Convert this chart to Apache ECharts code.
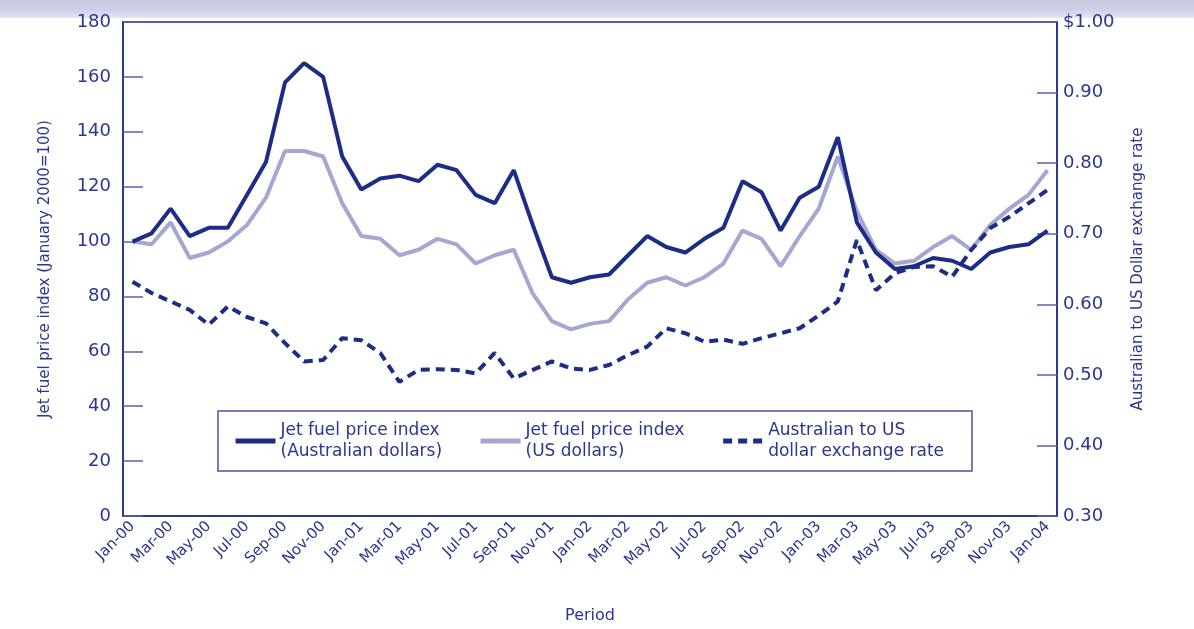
<!DOCTYPE html>
<html>
<head>
<meta charset="utf-8">
<script src="https://cdn.jsdelivr.net/npm/echarts@6/dist/echarts.min.js"></script>
<style>
  html, body { margin: 0; padding: 0; background: #fff; }
  #chart { width: 1194px; height: 629px; }
</style>
</head>
<body>
<div id="chart"></div>
<script>
// monthly, Jan-00 .. Jan-04
var months = ["Jan-00","Feb-00","Mar-00","Apr-00","May-00","Jun-00","Jul-00","Aug-00","Sep-00","Oct-00","Nov-00","Dec-00",
              "Jan-01","Feb-01","Mar-01","Apr-01","May-01","Jun-01","Jul-01","Aug-01","Sep-01","Oct-01","Nov-01","Dec-01",
              "Jan-02","Feb-02","Mar-02","Apr-02","May-02","Jun-02","Jul-02","Aug-02","Sep-02","Oct-02","Nov-02","Dec-02",
              "Jan-03","Feb-03","Mar-03","Apr-03","May-03","Jun-03","Jul-03","Aug-03","Sep-03","Oct-03","Nov-03","Dec-03",
              "Jan-04"];

// jet fuel price index, Australian dollars (Jan 2000 = 100)
var fuelAud = [100, 103, 112, 102, 105, 105, 117, 129, 158, 165, 160, 131,
               119, 123, 124, 122, 128, 126, 117, 114, 126, 106, 87, 85,
               87, 88, 95, 102, 98, 96, 101, 105, 122, 118, 104, 116,
               120, 138, 107, 96, 90, 91, 94, 93, 90, 96, 98, 99,
               104];

// jet fuel price index, US dollars
var fuelUsd = [100, 99, 107, 94, 96, 100, 106, 116, 133, 133, 131, 114,
               102, 101, 95, 97, 101, 99, 92, 95, 97, 81, 71, 68,
               70, 71, 79, 85, 87, 84, 87, 92, 104, 101, 91, 102,
               112, 131, 111, 97, 92, 93, 98, 102, 97, 106, 112, 117,
               126];

// AUD to USD exchange rate
var exRate = [0.632, 0.616, 0.604, 0.592, 0.571, 0.597, 0.582, 0.573, 0.545, 0.519, 0.521, 0.552,
              0.549, 0.531, 0.490, 0.507, 0.508, 0.507, 0.502, 0.531, 0.495, 0.507, 0.519, 0.509,
              0.507, 0.514, 0.528, 0.540, 0.566, 0.559, 0.547, 0.550, 0.544, 0.552, 0.559, 0.566,
              0.584, 0.604, 0.691, 0.620, 0.644, 0.653, 0.654, 0.639, 0.677, 0.708, 0.724, 0.743,
              0.762];

var seriesNames = ["Jet fuel price index\n(Australian dollars)",
                   "Jet fuel price index\n(US dollars)",
                   "Australian to US\ndollar exchange rate"];

var navy = "#1d2c84";
var lilac = "#a3a7d2";
var ink = "#2b3592";
var font = "DejaVu Sans";

var chart = echarts.init(document.getElementById("chart"));

chart.setOption({
    backgroundColor: "#fff",
    animation: false,
    textStyle: { fontFamily: font, color: ink },
    graphic: [
        {
            type: "rect",
            shape: { x: 0, y: 0, width: 1194, height: 18 },
            style: {
                fill: new echarts.graphic.LinearGradient(0, 0, 0, 1, [
                    { offset: 0, color: "#c6c9dd" },
                    { offset: 0.55, color: "#cdd0e8" },
                    { offset: 1, color: "#e4e6f5" }
                ])
            },
            silent: true
        }
    ],
    grid: {
        left: 123, right: 137, top: 22, bottom: 113,
        show: true, borderColor: navy, borderWidth: 1.5
    },
    legend: {
        left: 218, top: 411,
        orient: "horizontal",
        itemWidth: 40, itemHeight: 10,
        itemGap: 36,
        padding: [9, 28, 9, 15],
        borderColor: "#4c56a0", borderWidth: 1.5,
        itemStyle: { opacity: 0 },
        lineStyle: { width: 5 },
        textStyle: { fontFamily: font, fontSize: 17, color: ink, lineHeight: 21 },
        data: seriesNames
    },
    xAxis: {
        type: "category",
        data: months,
        boundaryGap: true,
        name: "Period",
        nameLocation: "middle",
        nameGap: 92,
        nameTextStyle: { fontFamily: font, fontSize: 16, color: ink },
        axisLine: { lineStyle: { color: navy, width: 1.5 } },
        axisTick: { alignWithLabel: true, interval: 0, inside: true, length: 12, lineStyle: { color: "#4c56a0", width: 1.5 } },
        axisLabel: { interval: 1, rotate: 45, fontFamily: font, fontSize: 15, color: ink, margin: 8 }
    },
    yAxis: [
        {
            type: "value",
            min: 0, max: 180, interval: 20,
            name: "Jet fuel price index (January 2000=100)",
            nameLocation: "middle",
            nameGap: 70,
            nameTextStyle: { fontFamily: font, fontSize: 15, color: ink },
            axisLine: { show: true, lineStyle: { color: navy, width: 1.5 } },
            axisTick: { show: true, inside: true, length: 20, lineStyle: { color: "#5a63a8", width: 1.5 } },
            axisLabel: { fontFamily: font, fontSize: 18, color: ink, margin: 12 },
            splitLine: { show: false }
        },
        {
            type: "value",
            min: 0.3, max: 1.0, interval: 0.1,
            position: "right",
            name: "Australian to US Dollar exchange rate",
            nameLocation: "middle",
            nameGap: 74,
            nameRotate: 90,
            nameTextStyle: { fontFamily: font, fontSize: 15, color: ink },
            axisLine: { show: true, lineStyle: { color: navy, width: 1.5 } },
            axisTick: { show: true, inside: true, length: 20, lineStyle: { color: "#5a63a8", width: 1.5 } },
            axisLabel: {
                fontFamily: font, fontSize: 18, color: ink, margin: 6,
                formatter: function (v) {
                    return v >= 0.999 ? "$1.00" : v.toFixed(2);
                }
            },
            splitLine: { show: false }
        }
    ],
    series: [
        {
            name: seriesNames[0],
            type: "line",
            data: fuelAud,
            yAxisIndex: 0,
            symbol: "none",
            z: 4,
            lineStyle: { color: navy, width: 4 },
            itemStyle: { color: navy }
        },
        {
            name: seriesNames[1],
            type: "line",
            data: fuelUsd,
            yAxisIndex: 0,
            symbol: "none",
            z: 3,
            lineStyle: { color: lilac, width: 4 },
            itemStyle: { color: lilac }
        },
        {
            name: seriesNames[2],
            type: "line",
            data: exRate,
            yAxisIndex: 1,
            symbol: "none",
            z: 5,
            lineStyle: { color: navy, width: 4, type: [9, 6] },
            itemStyle: { color: navy }
        }
    ]
});
</script>
</body>
</html>
